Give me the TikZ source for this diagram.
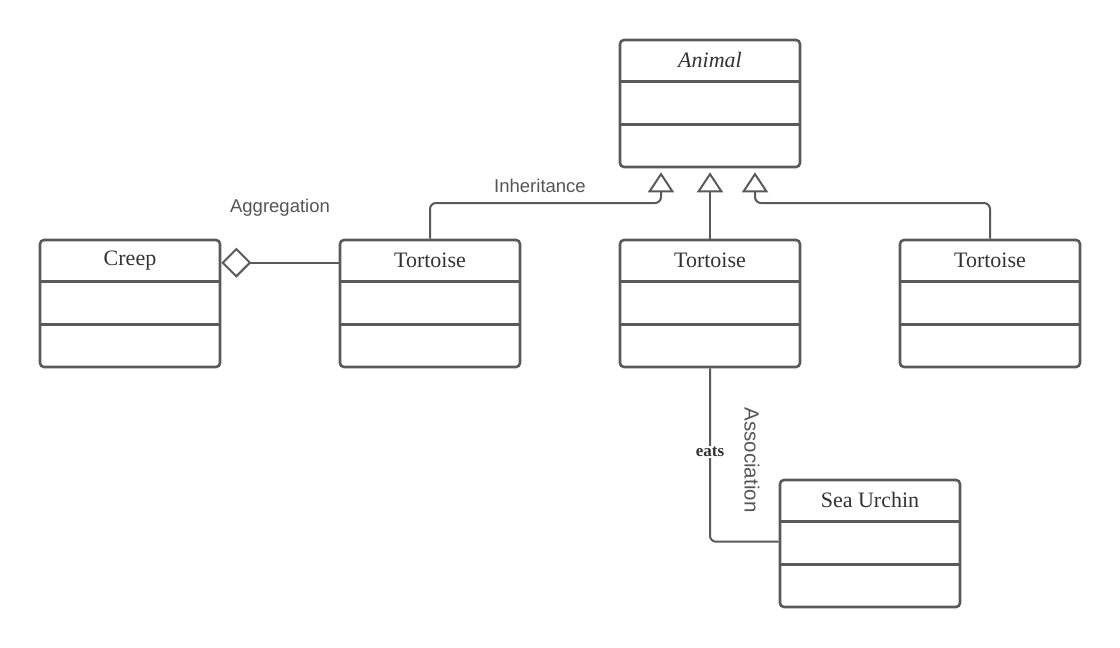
\documentclass[tikz,border=0pt]{standalone}
\usepackage{fontspec}
\setmainfont{Liberation Serif}
\newfontfamily\sansf{Liberation Sans}
\usetikzlibrary{arrows.meta,calc}
\definecolor{linec}{HTML}{5A5A5A}
\definecolor{textc}{HTML}{333333}
\definecolor{labc}{HTML}{555555}
\tikzset{
  cls/.style={draw=linec, line width=2.6pt, rounded corners=4pt, minimum width=180pt, minimum height=127pt, inner sep=0pt, fill=white},
  ttl/.style={font=\fontsize{22}{25}\selectfont, text=textc, inner sep=0pt},
  div/.style={draw=linec, line width=2.6pt},
  conn/.style={draw=linec, line width=2pt, rounded corners=6pt},
  lab/.style={font=\sansf\fontsize{18.5}{21}\selectfont, text=labc, inner sep=0pt},
  inh/.style={conn, -{Triangle[open, length=20pt, width=26pt, fill=white]}},
  agg/.style={conn, {Diamond[open, length=30pt, width=30pt, fill=white]}-},
}
\newcommand\umlclass[5]{%
  \node[cls] (#1) at (#2,#3+63.5) {};
  \node[ttl] (#1-t) at ($(#1.north)+(0,-21.5pt)$) {#4};
  \draw[div] ([yshift=-43pt]#1.north west) -- ([yshift=-43pt]#1.north east);
  \draw[div] ([yshift=-86pt]#1.north west) -- ([yshift=-86pt]#1.north east);
}
\begin{document}
\begin{tikzpicture}[x=1pt,y=-1pt]
\useasboundingbox[fill=white] (0,0) rectangle (1120,648);
\umlclass{animal}{710}{40}{\itshape Animal}{}
\umlclass{creep}{130}{240}{Creep}{}
\umlclass{ta}{430}{240}{Tortoise}{}
\umlclass{tb}{710}{240}{Tortoise}{}
\umlclass{tc}{990}{240}{Tortoise}{}
\umlclass{urchin}{870}{480}{Sea Urchin}{}
% inheritance
\draw[inh] (ta.north) |- (661,203) -- ([xshift=-49pt,yshift=-4pt]animal.south);
\draw[inh] (tb.north) -- ([yshift=-4pt]animal.south);
\draw[inh] (tc.north) |- (755,203) -- ([xshift=45pt,yshift=-4pt]animal.south);
\node[lab] (inhlab) at (540,186) {Inheritance};
% aggregation
\draw[agg] ([yshift=-24pt]creep.north east) -- ([yshift=-24pt]ta.north west);
\node[lab] (agglab) at (280,208) {Aggregation};
% association
\draw[conn] (tb.south) |- ([yshift=-63pt]urchin.north west);
\node[fill=white, inner sep=1.5pt, font=\bfseries\fontsize{17}{19}\selectfont, text=textc] (eats) at (710,452) {eats};
\node[lab, rotate=-90, font=\sansf\fontsize{20.5}{22}\selectfont] (asslab) at (752,460) {Association};
\end{tikzpicture}
\end{document}
